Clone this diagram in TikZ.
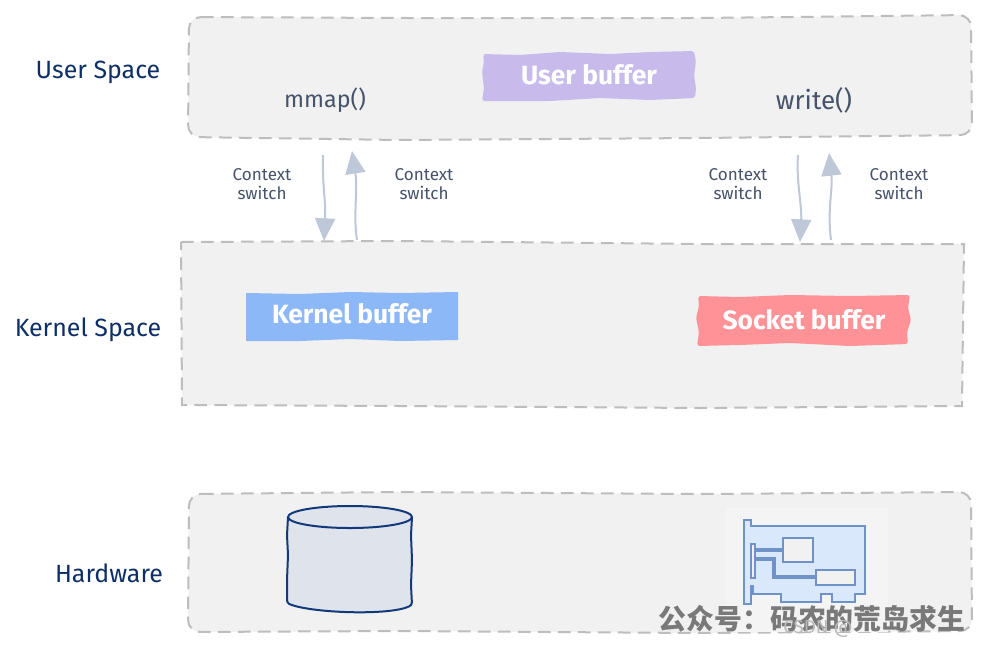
\documentclass[tikz,border=0pt]{standalone}
\usepackage{fontspec}
\setmainfont{Fira Sans}
\newfontfamily\cjk{Noto Sans CJK SC}
\usetikzlibrary{arrows.meta}
\definecolor{panel}{HTML}{F1F1F1}
\definecolor{dashc}{HTML}{BDBDBD}
\definecolor{navy}{HTML}{0E2F66}
\definecolor{navyb}{HTML}{123A7A}
\definecolor{slate}{HTML}{46536B}
\definecolor{arr}{HTML}{BEC8D8}
\definecolor{nicline}{HTML}{6F93C8}
\definecolor{nicfill}{HTML}{D9E8FB}
\definecolor{ubuf}{HTML}{C8BBEC}
\definecolor{kbuf}{HTML}{8DB8F8}
\definecolor{sbuf}{HTML}{FF9297}
\definecolor{diskf}{HTML}{DEE3EC}
\tikzset{
 x=0.75pt,y=-0.75pt,
 spacebox/.style={fill=panel,draw=dashc,line width=1.5pt,dash pattern=on 9.5pt off 5.5pt,rounded corners=9pt},
 sidelabel/.style={text=navy,font=\fontsize{18.7}{20}\selectfont,inner sep=0pt},
 funclabel/.style={text=slate,font=\fontsize{17.5}{20}\selectfont,inner sep=0pt},
 switchlabel/.style={text=slate,font=\fontsize{12.8}{14.5}\selectfont,align=center,inner sep=0pt},
 bufferlabel/.style={text=white,font=\bfseries\fontsize{19.8}{22}\selectfont,inner sep=0pt},
 wobble/.style={rounded corners=2pt},
 flow/.style={draw=arr,line width=1.5pt,-{Triangle[length=17pt,width=15pt,fill=arr]}},
 chip/.style={draw=nicline,fill=panel,line width=1.9pt},
}
\begin{document}
\begin{tikzpicture}
\useasboundingbox (0,0) rectangle (981,647);
\fill[white] (0,0) rectangle (981,647);
% panels
\draw[spacebox] (189,17) -- (400,18) -- (700,18) -- (971,15) -- (972,135) -- (700,138) -- (400,140) -- (188,137) -- cycle;
\draw[spacebox,rounded corners=0pt] (181,242) -- (400,241) -- (700,244) -- (964,244) -- (962,406) -- (700,408) -- (400,406) -- (182,405) -- cycle;
\draw[spacebox] (189,494) -- (400,492) -- (700,494) -- (971,492) -- (972,631) -- (700,633) -- (400,631) -- (188,632) -- cycle;
% side labels
\node[sidelabel] (us) at (98,72) {User Space};
\node[sidelabel] (ks) at (88,330) {Kernel Space};
\node[sidelabel] (hw) at (109,573) {Hardware};
% buffers
\fill[ubuf,wobble] (483,54) -- (520,55) -- (560,52) -- (610,54) -- (650,52) -- (694,51) -- (696,62) -- (694,75) -- (696,88) -- (695,98) -- (650,100) -- (600,98) -- (550,101) -- (482,101) -- (484,88) -- (482,72) -- (484,62) -- cycle;
\node[bufferlabel] (ub) at (589,75) {User buffer};
\fill[kbuf] (246,293) -- (300,294) -- (350,292) -- (400,293) -- (458,292) -- (458,340) -- (400,341) -- (350,339) -- (300,341) -- (246,341) -- cycle;
\node[bufferlabel] (kb) at (352,314) {Kernel buffer};
\fill[sbuf,wobble] (698,296) -- (740,297) -- (790,295) -- (850,296) -- (910,295) -- (908,308) -- (911,320) -- (907,332) -- (908,344) -- (850,346) -- (790,343) -- (740,345) -- (697,346) -- (699,332) -- (696,318) -- (699,306) -- cycle;
\node[bufferlabel] (sb) at (804,320) {Socket buffer};
% function labels
\node[funclabel] (mm) at (325,100) {mmap()};
\node[funclabel,font=\fontsize{19.5}{20}\selectfont] (wr) at (814,100) {write()};
% context switches
\node[switchlabel] (c1) at (262,184) {Context\\switch};
\node[switchlabel] (c2) at (424,184) {Context\\switch};
\node[switchlabel] (c3) at (738,184) {Context\\switch};
\node[switchlabel] (c4) at (899,184) {Context\\switch};
% arrows
\coordinate (a1s) at (323,155); \coordinate (a1e) at (324,241);
\coordinate (a2s) at (357,240); \coordinate (a2e) at (352,151);
\coordinate (a3s) at (798,155); \coordinate (a3e) at (800,242);
\coordinate (a4s) at (831,240); \coordinate (a4e) at (829,153);
\draw[flow] (a1s) .. controls (322,185) and (326,200) .. (a1e);
\draw[flow] (a2s) .. controls (353,215) and (358,190) .. (a2e);
\draw[flow] (a3s) .. controls (796,180) and (802,205) .. (a3e);
\draw[flow] (a4s) .. controls (827,210) and (833,190) .. (a4e);
% disk
\draw[fill=diskf,draw=navyb,line width=1.5pt,rounded corners=2pt] (288,517) -- (287,535) -- (288,555) -- (287,580) -- (287,603) .. controls (310,613) and (390,616) .. (412,605) -- (411,585) -- (412,560) -- (411,535) -- (412,517);
\draw[fill=diskf,draw=navyb,line width=1.5pt] (350,517) ellipse [x radius=62,y radius=11];
% NIC
\fill[panel!80!white] (726,508) rectangle (888,632);
\draw[draw=nicline,fill=nicfill,line width=2pt] (744,520) -- (751,520) -- (751,526) -- (865,526) -- (865,594) -- (855,594) -- (855,602) -- (832,602) -- (832,594) -- (821,594) -- (821,602) -- (781,602) -- (781,594) -- (753,594) -- (753,586) -- (751,586) -- (751,604) -- (744,604) -- cycle;
\draw[draw=nicline,fill=panel,line width=1.7pt] (751,544) rectangle (755,578);
\draw[chip] (783,538) rectangle (813,562);
\draw[chip] (816,570) rectangle (855,585);
\draw[draw=nicline,line width=2.6pt] (755,550) -- (783,550);
\draw[draw=nicline,line width=3.2pt] (755,559) -- (774,559) -- (774,577) -- (816,577);
% watermark
\node[inner sep=0pt,text=gray!95!black,font=\cjk\bfseries\fontsize{20.9}{24}\selectfont] (wm) at (812,619) {公众号：码农的荒岛求生};
\node[inner sep=0pt,text=gray!55!white,font=\fontsize{14}{16}\selectfont] (wm2) at (818,629) {CSDN @};
\end{tikzpicture}
\end{document}
